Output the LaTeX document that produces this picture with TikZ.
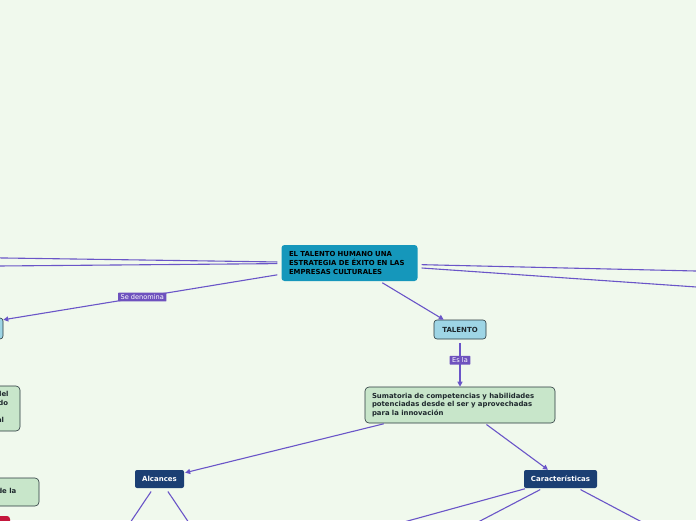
\documentclass[tikz,border=0pt]{standalone}
\usepackage{fontspec}
\setmainfont{DejaVu Sans}
\usetikzlibrary{arrows.meta}
\definecolor{bgc}{RGB}{240,249,237}
\definecolor{centc}{RGB}{21,151,187}
\definecolor{talc}{RGB}{158,213,229}
\definecolor{grnc}{RGB}{200,230,202}
\definecolor{navyc}{RGB}{27,63,115}
\definecolor{linec}{RGB}{106,85,200}
\definecolor{labc}{RGB}{110,82,190}
\definecolor{redc}{RGB}{196,23,60}
\definecolor{bordc}{RGB}{40,55,60}
\definecolor{txtc}{RGB}{30,40,45}
\tikzset{
  conn/.style={draw=linec, line width=1.1pt},
  arr/.style={conn, -{Triangle[length=5pt,width=5pt]}},
  lab/.style={fill=labc, text=white, font=\fontsize{6.6}{7}\selectfont, inner xsep=2.5pt, inner ysep=1.8pt, rounded corners=0.5pt},
  centbox/.style={fill=centc, rounded corners=3pt, font=\fontsize{6.9}{8.6}\selectfont\bfseries, text=black, align=left, text width=121pt, minimum height=36pt, inner xsep=7.5pt, inner ysep=0pt},
  talbox/.style={fill=talc, draw=bordc, line width=0.6pt, rounded corners=3pt, font=\fontsize{7}{7}\selectfont\bfseries, text=txtc, minimum width=52pt, minimum height=19pt, inner sep=0pt},
  grnbox/.style={fill=grnc, draw=bordc, line width=0.6pt, rounded corners=4pt, font=\fontsize{6.9}{8.6}\selectfont\bfseries, text=txtc, align=left, inner sep=0pt},
  navybox/.style={fill=navyc, rounded corners=2pt, font=\fontsize{7}{7}\selectfont\bfseries, text=white, minimum height=18pt, inner sep=0pt},
  redbox/.style={fill=redc, rounded corners=3pt, minimum width=60pt, minimum height=20pt, inner sep=0pt},
  frag/.style={font=\fontsize{6.9}{8.6}\selectfont\bfseries, text=txtc, inner sep=0pt},
}
\begin{document}
\begin{tikzpicture}[x=1pt,y=-1pt]
\useasboundingbox (0,0) rectangle (696,520);
\fill[bgc] (0,0) rectangle (696,520);
\clip (0,0) rectangle (696,520);

% nodes
\node[centbox] (c) at (349.5,263) {EL TALENTO HUMANO UNA\\ESTRATEGIA DE ÉXITO EN LAS\\EMPRESAS CULTURALES};
\node[talbox] (t) at (460,329.5) {TALENTO};
\node[talbox, minimum width=106pt, minimum height=21pt] (lt) at (-50,328.5) {};
\node[grnbox, text width=176pt, minimum height=36pt, inner xsep=7pt] (s) at (460,405) {Sumatoria de competencias y habilidades\\potenciadas desde el ser y aprovechadas\\para la innovación};
\node[navybox, minimum width=49pt] (al) at (159.5,479) {Alcances};
\node[navybox, minimum width=73pt] (ca) at (560.5,479) {Características};
\node[grnbox, minimum width=120pt, minimum height=45pt] (g1) at (-40,408.5) {};
\node[grnbox, minimum width=120pt, minimum height=28pt] (g2) at (-21,492) {};
\node[redbox] (r) at (-20,526) {};
\node[frag, align=right, anchor=north east] (g1t) at (8.8,391.5) {del\\do\kern0.5pt\\[8.6pt]al\kern4.5pt};
\node[frag, anchor=east] (g2t) at (16.5,491) {de la};

% free ends
\coordinate (l1) at (-2,257.9);
\coordinate (l2) at (-2,266);
\coordinate (r1) at (698,271.05);
\coordinate (r2) at (698,287.1);
\coordinate (b1) at (128.6,525);
\coordinate (b2) at (190.4,525);
\coordinate (b3) at (393,525);
\coordinate (b4) at (472.4,525);
\coordinate (b5) at (647.5,525);

% connectors
\draw[conn, shorten <=4pt] (c) -- (l1);
\draw[conn, shorten <=4pt] (c) -- (l2);
\draw[conn, shorten <=4pt] (c) -- (r1);
\draw[conn, shorten <=4pt] (c) -- (r2);
\draw[arr, shorten <=4pt] (c) -- node[lab, pos=0.5] {Se denomina} (lt);
\draw[arr, shorten <=3pt] (c) -- (t);
\draw[arr, shorten <=4pt] (t) -- node[lab, pos=0.44] {Es la} (s);
\draw[arr, shorten <=2pt, shorten >=1pt] (s) -- (al);
\draw[arr, shorten <=2pt] (s) -- (ca);
\draw[conn, shorten <=4pt] (al) -- (b1);
\draw[conn, shorten <=4pt] (al) -- (b2);
\draw[conn, shorten <=2pt] (ca) -- (b3);
\draw[conn, shorten <=3pt] (ca) -- (b4);
\draw[conn, shorten <=3pt] (ca) -- (b5);
\end{tikzpicture}
\end{document}
